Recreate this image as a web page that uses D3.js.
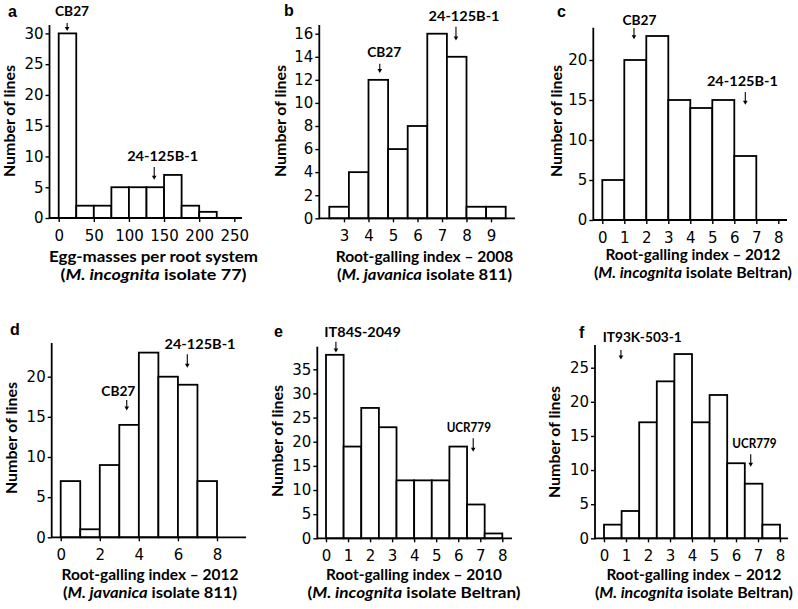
<!DOCTYPE html>
<html><head><meta charset="utf-8">
<script src="https://cdn.jsdelivr.net/npm/d3@7"></script>
<style>body{margin:0;background:#fff}</style>
</head><body>
<svg id="chart" width="798" height="609" xmlns="http://www.w3.org/2000/svg"></svg>
<script>
// ---------- data ----------
const aEdges = [0,25,50,75,100,125,150,175,200,225,250];
const aCounts = [30,2,2,5,5,5,7,2,1,0];
const aXTicks = [0,50,100,150,200,250];
const aYTicks = [0,5,10,15,20,25,30];

const bEdges = [2.4,3.2,4.0,4.8,5.6,6.4,7.2,8.0,8.8,9.6];
const bCounts = [1,4,12,6,8,16,14,1,1];
const bXTicks = [3,4,5,6,7,8,9];
const bYTicks = [0,2,4,6,8,10,12,14,16];

const cEdges = [0,1,2,3,4,5,6,7,8];
const cCounts = [5,20,23,15,14,15,8,0];
const cXTicks = [0,1,2,3,4,5,6,7,8];
const cYTicks = [0,5,10,15,20];

const dEdges = [0,1,2,3,4,5,6,7,8];
const dCounts = [7,1,9,14,23,20,19,7];
const dXTicks = [0,2,4,6,8];
const dYTicks = [0,5,10,15,20];

const eEdges = [0,0.8,1.6,2.4,3.2,4.0,4.8,5.6,6.4,7.2,8.0];
const eCounts = [38,19,27,23,12,12,12,19,7,1];
const eXTicks = [0,1,2,3,4,5,6,7,8];
const eYTicks = [0,5,10,15,20,25,30,35];

const fEdges = [0,0.8,1.6,2.4,3.2,4.0,4.8,5.6,6.4,7.2,8.0];
const fCounts = [2,4,17,23,27,17,21,11,8,2];
const fXTicks = [0,1,2,3,4,5,6,7,8];
const fYTicks = [0,5,10,15,20,25];

const yLabel = "Number of lines";
const xLabels = [
  ["Egg-masses per root system", "M. incognita", " isolate 77)"],
  ["Root-galling index \u2013 2008", "M. javanica", " isolate 811)"],
  ["Root-galling index \u2013 2012", "M. incognita", " isolate Beltran)"],
  ["Root-galling index \u2013 2012", "M. javanica", " isolate 811)"],
  ["Root-galling index \u2013 2010", "M. incognita", " isolate Beltran)"],
  ["Root-galling index \u2013 2012", "M. incognita", " isolate Beltran)"]
];
// annotations: label, label x, label baseline y, arrow x, arrow top y, arrow tip y (data units)
const aNotes = [["CB27",19,32.8,12,31.7,30.4],["24-125B-1",148,9.3,136,8.3,6.2]];
const bNotes = [["CB27",4.64,13.95,4.46,13.4,12.6],["24-125B-1",7.9,17.1,7.57,16.6,15.4]];
const cNotes = [["CB27",1.69,24.4,1.44,24.0,22.6],["24-125B-1",6.37,16.75,6.5,16.0,14.4]];
const dNotes = [["CB27",2.95,17.6,3.38,17.1,15.8],["24-125B-1",7.13,23.5,6.48,22.8,21.1]];
const eNotes = [["IT84S-2049",1.66,41.6,0.45,40.7,38.5],["UCR779",6.48,22.1,6.68,20.7,17.9]];
const fNotes = [["IT93K-503-1",1.74,28.7,0.77,27.6,26.2],["UCR779",6.84,13.3,6.67,12.3,10.5]];

// ---------- layout ----------
const noteWidths = {"CB27":34, "24-125B-1":71, "IT84S-2049":76.5, "UCR779":44.3, "IT93K-503-1":79};
const panels = [
  {letter:"a", lx:8,  ly:17,  edges:aEdges, counts:aCounts, xt:aXTicks, yt:aYTicks, xd:[0,250], xr:[58.7,234.3], yd:[0,30], yr:[218,33.4], axX:49.5, xEnd:242, yTop:25, ylx:15, yly:121, xlx:153.5, xly:262, xw:[209,186], notes:aNotes},
  {letter:"b", lx:284, ly:16, edges:bEdges, counts:bCounts, xt:bXTicks, yt:bYTicks, xd:[3,9], xr:[344,491], yd:[0,16], yr:[218.3,33.7], axX:319.3, xEnd:515, yTop:25, ylx:286, yly:121, xlx:424.5, xly:261.5, xw:[177.6,175], notes:bNotes},
  {letter:"c", lx:557, ly:17, edges:cEdges, counts:cCounts, xt:cXTicks, yt:cYTicks, xd:[0,8], xr:[602.3,778.3], yd:[0,20], yr:[220,60], axX:593.3, xEnd:787, yTop:27.7, ylx:562, yly:121, xlx:693, xly:260, xw:[175,198], notes:cNotes},
  {letter:"d", lx:10, ly:335, edges:dEdges, counts:dCounts, xt:dXTicks, yt:dYTicks, xd:[0,8], xr:[60.7,217], yd:[0,20], yr:[537.3,376.7], axX:51.7, xEnd:246, yTop:343, ylx:17, yly:438, xlx:150, xly:580, xw:[177,174], notes:dNotes},
  {letter:"e", lx:274, ly:337, edges:eEdges, counts:eCounts, xt:eXTicks, yt:eYTicks, xd:[0,8], xr:[326,502.3], yd:[0,35], yr:[538.3,369.3], axX:317.3, xEnd:512, yTop:346.7, ylx:283, yly:441, xlx:414, xly:580, xw:[176,213], notes:eNotes},
  {letter:"f", lx:579, ly:338, edges:fEdges, counts:fCounts, xt:fXTicks, yt:fYTicks, xd:[0,8], xr:[604,780], yd:[0,25], yr:[538.3,367.7], axX:595, xEnd:788, yTop:345, ylx:560, yly:442, xlx:694, xly:580, xw:[175,198], notes:fNotes}
];

const svg = d3.select("#chart");
svg.append("rect").attr("width",798).attr("height",609).attr("fill","#fff");
const LABEL_FONT = "Lato, 'Open Sans', sans-serif";
const TICK_FONT = "'DejaVu Sans', Verdana, sans-serif";
const SW = 1.8;

panels.forEach((p, pi) => {
  const g = svg.append("g");
  const x = d3.scaleLinear().domain(p.xd).range(p.xr);
  const y = d3.scaleLinear().domain(p.yd).range(p.yr);

  const bins = p.counts.map((c,i) => ({x0:p.edges[i], x1:p.edges[i+1], c}));
  g.selectAll("rect.bar").data(bins.filter(d => d.c > 0)).join("rect")
    .attr("class","bar")
    .attr("x", d => x(d.x0)).attr("y", d => y(d.c))
    .attr("width", d => x(d.x1) - x(d.x0)).attr("height", d => y(0) - y(d.c))
    .attr("fill","#fff").attr("stroke","#000").attr("stroke-width",SW);

  // y axis
  const ya = g.append("g").attr("transform", `translate(${p.axX},0)`)
    .call(d3.axisLeft(y).tickValues(p.yt).tickSize(4).tickPadding(2).tickFormat(d3.format("d")));
  ya.select(".domain").remove();
  ya.selectAll(".tick line").attr("stroke","#000").attr("stroke-width",1.4);
  ya.selectAll(".tick text").attr("font-family",TICK_FONT).attr("font-size",15).attr("fill","#000");
  g.append("line").attr("x1",p.axX).attr("x2",p.axX).attr("y1",p.yTop).attr("y2",y(0)+SW/2)
    .attr("stroke","#000").attr("stroke-width",SW);

  // x axis
  const xa = g.append("g").attr("transform", `translate(0,${y(0)})`)
    .call(d3.axisBottom(x).tickValues(p.xt).tickSize(4).tickPadding(8).tickFormat(d3.format("d")));
  xa.select(".domain").remove();
  xa.selectAll(".tick line").attr("stroke","#000").attr("stroke-width",1.4);
  xa.selectAll(".tick text").attr("font-family",TICK_FONT).attr("font-size",15).attr("fill","#000");
  g.append("line").attr("x1",p.axX).attr("x2",p.xEnd).attr("y1",y(0)).attr("y2",y(0))
    .attr("stroke","#000").attr("stroke-width",SW);

  // panel letter
  g.append("text").attr("x",p.lx).attr("y",p.ly).text(p.letter)
    .attr("font-family","'Liberation Sans', Arial, sans-serif").attr("font-weight","bold").attr("font-size",16);

  // y label
  g.append("text").attr("transform",`translate(${p.ylx},${p.yly}) rotate(-90)`)
    .attr("text-anchor","middle").attr("font-family",LABEL_FONT).attr("font-weight","bold").attr("font-size",14.5)
    .attr("textLength",112).attr("lengthAdjust","spacingAndGlyphs")
    .text(yLabel);

  // x labels
  const xl = xLabels[pi];
  g.append("text").attr("x",p.xlx).attr("y",p.xly).attr("text-anchor","middle")
    .attr("font-family",LABEL_FONT).attr("font-weight","bold").attr("font-size",14.5)
    .attr("textLength",p.xw[0]).attr("lengthAdjust","spacingAndGlyphs").text(xl[0]);
  const t2 = g.append("text").attr("x",p.xlx).attr("y",p.xly+18).attr("text-anchor","middle")
    .attr("font-family",LABEL_FONT).attr("font-weight","bold").attr("font-size",14.5)
    .attr("textLength",p.xw[1]).attr("lengthAdjust","spacingAndGlyphs");
  t2.append("tspan").text("(");
  t2.append("tspan").attr("font-style","italic").text(xl[1]);
  t2.append("tspan").text(xl[2]);

  // annotations
  p.notes.forEach(n => {
    g.append("text").attr("x",x(n[1])).attr("y",y(n[2])).attr("text-anchor","middle")
      .attr("font-family",LABEL_FONT).attr("font-weight","bold").attr("font-size",13.5)
      .attr("textLength",noteWidths[n[0]]).attr("lengthAdjust","spacingAndGlyphs").text(n[0]);
    const ax = x(n[3]), y1 = y(n[4]), y2 = y(n[5]);
    g.append("line").attr("x1",ax).attr("x2",ax).attr("y1",y1).attr("y2",y2-3)
      .attr("stroke","#000").attr("stroke-width",1.1);
    g.append("path").attr("d",`M${ax-2.3},${y2-4}L${ax+2.3},${y2-4}L${ax},${y2}Z`).attr("fill","#000");
  });
});
</script>
</body></html>
